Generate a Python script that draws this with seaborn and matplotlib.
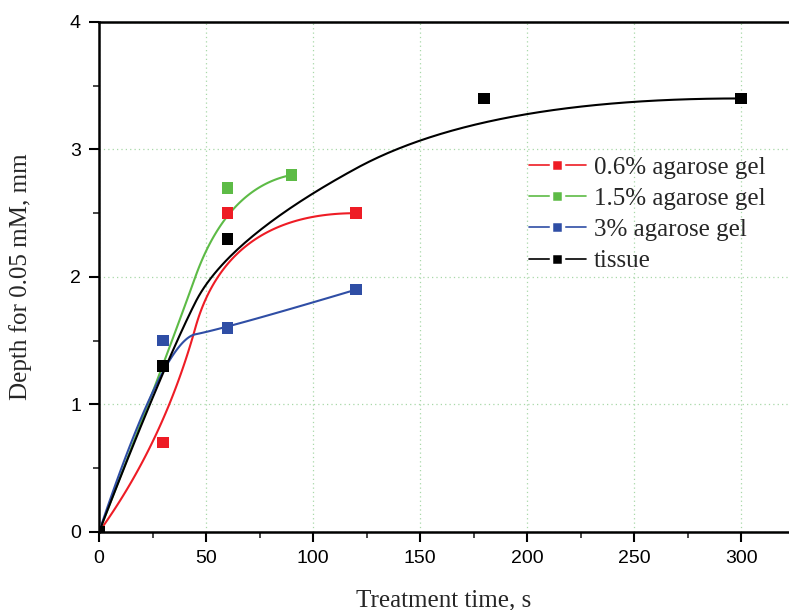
import numpy as np
import pandas as pd
import matplotlib
matplotlib.use("Agg")
import matplotlib.pyplot as plt
from matplotlib.lines import Line2D
from matplotlib.ticker import MultipleLocator
import seaborn as sns


SERIES = ["0.6% agarose gel", "1.5% agarose gel", "3% agarose gel", "tissue"]
COLORS = ["#ee1c25", "#5dbb46", "#2f4ea5", "#000000"]

gel06_time = [0, 30, 60, 120]
gel06_depth = [0, 0.7, 2.5, 2.5]

gel15_time = [0, 30, 60, 90]
gel15_depth = [0, 1.3, 2.7, 2.8]

gel3_time = [0, 30, 60, 120]
gel3_depth = [0, 1.5, 1.6, 1.9]

tissue_time = [0, 30, 60, 180, 300]
tissue_depth = [0, 1.3, 2.3, 3.4, 3.4]


def bspline2(xs, ys, n=60):
    """Clamped quadratic B-spline on the control points (Origin style)."""
    p = np.column_stack([xs, ys]).astype(float)
    mids = (p[1:-2] + p[2:-1]) / 2
    starts = np.vstack([p[:1], mids])
    ends = np.vstack([mids, p[-1:]])
    ctrl = p[1:-1]
    t = np.linspace(0, 1, n)[:, None]
    pieces = []
    for a, c, b in zip(starts, ctrl, ends):
        pieces.append((1 - t) ** 2 * a + 2 * t * (1 - t) * c + t ** 2 * b)
    return np.vstack(pieces)


raw = [
    (gel06_time, gel06_depth),
    (gel15_time, gel15_depth),
    (gel3_time, gel3_depth),
    (tissue_time, tissue_depth),
]

points = pd.concat(
    [pd.DataFrame({"time": x, "depth": y, "series": s}) for (x, y), s in zip(raw, SERIES)],
    ignore_index=True,
)
curves = []
for (x, y), s in zip(raw, SERIES):
    c = bspline2(x, y)
    curves.append(pd.DataFrame({"time": c[:, 0], "depth": c[:, 1], "series": s}))
curves = pd.concat(curves, ignore_index=True)

sns.set_theme(style="ticks")
plt.rcParams["font.family"] = ["Liberation Sans", "DejaVu Sans"]

fig = plt.figure(figsize=(7.89, 6.10), dpi=100)
ax = fig.add_axes([0.1255, 0.128, 0.8745, 0.836])

palette = dict(zip(SERIES, COLORS))

sns.lineplot(
    data=curves, x="time", y="depth", hue="series", palette=palette,
    sort=False, estimator=None, linewidth=1.5, legend=False, ax=ax, zorder=3,
)
sns.scatterplot(
    data=points, x="time", y="depth", hue="series", palette=palette,
    marker="s", s=70, linewidth=0, legend=False, ax=ax, zorder=4,
)

ax.set_xlim(0, 322.4)
ax.set_ylim(0, 4)
ax.xaxis.set_major_locator(MultipleLocator(50))
ax.xaxis.set_minor_locator(MultipleLocator(25))
ax.yaxis.set_major_locator(MultipleLocator(1))
ax.yaxis.set_minor_locator(MultipleLocator(0.5))

ax.grid(True, which="major", color="#a8d8a8", linestyle=(0, (1, 2.5)), linewidth=0.9)
ax.set_axisbelow(True)

for side in ["left", "bottom", "top"]:
    ax.spines[side].set_linewidth(1.8)
    ax.spines[side].set_color("black")
ax.spines["right"].set_visible(False)

ax.tick_params(which="major", direction="out", length=7, width=1.5,
               labelsize=14, colors="black", pad=6)
ax.tick_params(which="minor", direction="out", length=4, width=1.2)
ax.tick_params(top=False, right=False, which="both")

label_font = {"family": ["Liberation Serif", "DejaVu Serif"], "size": 18}
ax.set_xlabel("Treatment time, s", fontdict=label_font, labelpad=16)
ax.set_ylabel("Depth for 0.05 mM, mm", fontdict=label_font, labelpad=27)

handles = [
    Line2D([], [], color=c, linewidth=1.2, marker="s", markersize=9,
           markerfacecolor=c, markeredgecolor="white", markeredgewidth=2.5)
    for c in COLORS
]
leg = ax.legend(
    handles, SERIES, loc="upper left", bbox_to_anchor=(0.59, 0.781),
    frameon=False, handlelength=2.3, handletextpad=0.3, labelspacing=0.35,
    prop={"family": ["Liberation Serif", "DejaVu Serif"], "size": 18},
)

fig.savefig("out.png", dpi=100)
